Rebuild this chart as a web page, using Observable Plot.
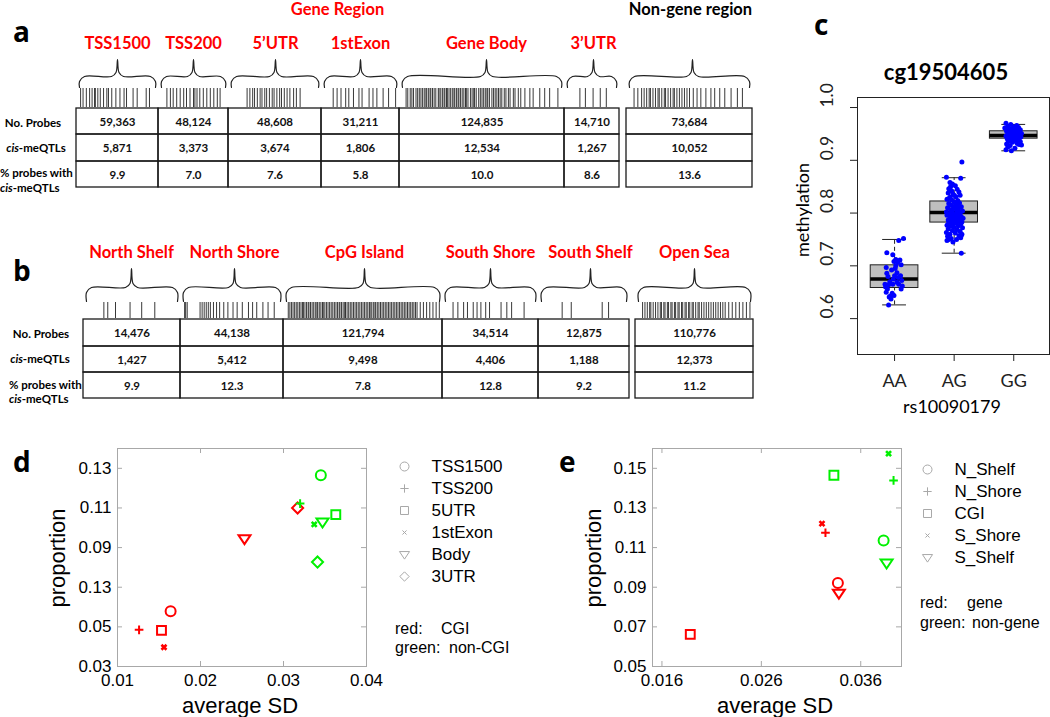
<!DOCTYPE html>
<html><head><meta charset="utf-8">
<script src="https://cdn.jsdelivr.net/npm/d3@7"></script>
<script src="https://cdn.jsdelivr.net/npm/@observablehq/plot@0.6"></script>
<style>
body{margin:0;background:#fff;}
#root{position:relative;width:1050px;height:717px;overflow:hidden;background:#fff;}
.pane{position:absolute;}
.pane svg{max-width:none;display:block;}
</style></head><body><div id="root"></div>
<script>
// ---------------- DATA ----------------
// Panel a
const regionsA = ["TSS1500","TSS200","5’UTR","1stExon","Gene Body","3’UTR"];
const probesA = [59363,48124,48608,31211,124835,14710,73684];
const cisA = [5871,3373,3674,1806,12534,1267,10052];
const pctA = [9.9,7.0,7.6,5.8,10.0,8.6,13.6];
const ticksA = [
  [0.05,0.08,0.12,0.16,0.19,0.22,0.23,0.26,0.29,0.33,0.37,0.39,0.43,0.48,0.53,0.58,0.61,0.69,0.74,0.85,0.89],
  [0.12,0.17,0.21,0.26,0.31,0.36,0.40,0.45,0.50,0.52,0.55,0.59,0.64,0.69,0.74,0.79,0.84,0.88],
  [0.20,0.23,0.26,0.28,0.31,0.34,0.36,0.39,0.41,0.44,0.47,0.49,0.52,0.55,0.57,0.60,0.63,0.66,0.70,0.73,0.77],
  [0.15,0.20,0.25,0.31,0.35,0.41,0.48,0.52,0.61,0.66,0.71,0.79,0.86,0.95],
  [0.04,0.05,0.065,0.075,0.085,0.10,0.11,0.12,0.13,0.14,0.15,0.16,0.165,0.175,0.185,0.19,0.20,0.21,0.22,0.235,0.24,0.25,0.26,0.27,0.275,0.285,0.29,0.30,0.31,0.32,0.33,0.335,0.345,0.355,0.36,0.37,0.38,0.39,0.40,0.405,0.415,0.43,0.44,0.45,0.455,0.465,0.48,0.49,0.50,0.51,0.52,0.53,0.535,0.545,0.56,0.57,0.58,0.59,0.60,0.61,0.62,0.635,0.645,0.66,0.67,0.69,0.70,0.72,0.735,0.76,0.79,0.81,0.85,0.88,0.91,0.96],
  [0.28,0.38,0.52,0.65,0.76],
  [0.06,0.09,0.12,0.14,0.16,0.18,0.19,0.21,0.23,0.25,0.26,0.28,0.30,0.31,0.33,0.35,0.37,0.38,0.40,0.42,0.44,0.46,0.48,0.50,0.53,0.56,0.59,0.63,0.67,0.70,0.74,0.78,0.83,0.88,0.92]
];
// Panel b
const regionsB = ["North Shelf","North Shore","CpG Island","South Shore","South Shelf","Open Sea"];
const probesB = [14476,44138,121794,34514,12875,110776];
const cisB = [1427,5412,9498,4406,1188,12373];
const pctB = [9.9,12.3,7.8,12.8,9.2,11.2];
const ticksB = [
  [0.21,0.25,0.33,0.48,0.60,0.735],
  [0.04,0.05,0.065,0.19,0.21,0.23,0.25,0.27,0.29,0.32,0.35,0.38,0.42,0.46,0.51,0.55,0.60,0.66,0.70,0.74,0.80,0.85,0.91],
  [0.03,0.04,0.05,0.06,0.07,0.08,0.09,0.10,0.11,0.12,0.125,0.135,0.145,0.155,0.16,0.17,0.18,0.19,0.20,0.21,0.215,0.225,0.235,0.245,0.25,0.26,0.27,0.28,0.29,0.30,0.31,0.32,0.33,0.34,0.35,0.355,0.365,0.375,0.385,0.39,0.40,0.41,0.42,0.43,0.44,0.45,0.46,0.47,0.48,0.49,0.50,0.51,0.52,0.53,0.54,0.545,0.555,0.565,0.575,0.58,0.59,0.60,0.61,0.62,0.63,0.64,0.65,0.66,0.67,0.68,0.69,0.70,0.71,0.72,0.73,0.74,0.75,0.76,0.77,0.78,0.79,0.80,0.81,0.82,0.83,0.84,0.86,0.88,0.90,0.92,0.94,0.96,0.98],
  [0.11,0.16,0.22,0.26,0.32,0.36,0.40,0.45,0.49,0.61,0.67,0.72,0.85],
  [0.26,0.36,0.70,0.77],
  [0.06,0.08,0.10,0.12,0.13,0.15,0.17,0.19,0.21,0.22,0.24,0.25,0.27,0.28,0.30,0.31,0.33,0.34,0.36,0.37,0.39,0.40,0.42,0.43,0.45,0.46,0.48,0.49,0.51,0.53,0.54,0.56,0.58,0.60,0.62,0.64,0.66,0.68,0.70,0.72,0.74,0.76,0.79,0.82,0.85,0.88,0.91,0.94,0.97]
];
// Panel c
const genotypes = ["AA","AG","GG"];
const boxQ1 = [0.658,0.782,0.941];
const boxMed = [0.675,0.801,0.947];
const boxQ3 = [0.701,0.822,0.955];
const whiskLo = [0.626,0.724,0.918];
const whiskHi = [0.750,0.867,0.968];
const pointsAA = [[0.15,0.752],[0.07,0.748],[-0.13,0.725],[-0.03,0.721],[0.02,0.712],[-0.01,0.708],[0.05,0.707],[0.09,0.711],[0.11,0.702],[-0.14,0.697],[0.01,0.695],[-0.05,0.692],[-0.13,0.686],[0.04,0.687],[0.00,0.681],[0.10,0.681],[0.06,0.678],[-0.02,0.675],[0.12,0.672],[-0.16,0.665],[-0.10,0.664],[-0.03,0.665],[0.07,0.665],[0.13,0.662],[-0.12,0.656],[0.11,0.656],[-0.15,0.660],[-0.14,0.650],[-0.04,0.648],[-0.07,0.643],[-0.01,0.644],[-0.09,0.641],[-0.06,0.637],[-0.10,0.626],[0.04,0.669],[-0.08,0.670],[0.02,0.700],[-0.11,0.680]];
const pointsAG = [[0.13,0.897],[-0.13,0.868],[0.11,0.866],[-0.07,0.858],[-0.03,0.855],[-0.06,0.850],[0.02,0.852],[-0.09,0.846],[0.05,0.845],[-0.04,0.842],[-0.10,0.838],[0.08,0.840],[-0.02,0.836],[0.10,0.834],[-0.07,0.830],[0.03,0.831],[-0.12,0.826],[-0.04,0.825],[0.06,0.824],[0.00,0.821],[-0.09,0.818],[0.09,0.819],[-0.05,0.815],[0.02,0.814],[0.12,0.812],[-0.11,0.810],[-0.01,0.809],[0.07,0.808],[-0.06,0.806],[0.04,0.805],[0.14,0.804],[-0.13,0.802],[-0.03,0.801],[0.05,0.800],[0.10,0.799],[-0.08,0.798],[0.01,0.797],[-0.12,0.796],[0.08,0.795],[-0.04,0.794],[0.12,0.793],[0.03,0.792],[-0.07,0.791],[0.15,0.790],[-0.01,0.789],[0.06,0.788],[-0.10,0.787],[0.09,0.786],[-0.05,0.785],[0.02,0.784],[0.13,0.783],[-0.09,0.782],[0.04,0.781],[-0.02,0.780],[0.11,0.779],[-0.12,0.777],[0.07,0.776],[-0.06,0.775],[0.00,0.773],[0.14,0.772],[-0.10,0.770],[0.05,0.769],[-0.03,0.767],[0.10,0.765],[-0.13,0.763],[0.02,0.762],[-0.07,0.760],[0.12,0.758],[-0.11,0.756],[0.08,0.757],[-0.05,0.752],[0.04,0.750],[-0.12,0.748],[0.11,0.753],[-0.02,0.745],[0.13,0.760],[-0.09,0.750],[0.12,0.724],[0.06,0.812],[-0.08,0.828],[0.09,0.803],[-0.04,0.806],[0.03,0.817],[0.00,0.834],[-0.06,0.795],[0.07,0.790]];
const pointsGG = [[-0.13,0.970],[-0.05,0.968],[0.05,0.966],[-0.10,0.964],[0.00,0.963],[0.08,0.962],[-0.15,0.961],[-0.03,0.960],[0.04,0.959],[0.11,0.958],[-0.08,0.957],[0.01,0.957],[0.07,0.956],[-0.12,0.955],[-0.02,0.954],[0.10,0.954],[-0.06,0.953],[0.03,0.952],[0.13,0.951],[-0.10,0.950],[0.00,0.950],[0.06,0.949],[-0.04,0.948],[0.09,0.947],[-0.13,0.946],[0.02,0.946],[-0.07,0.945],[0.12,0.944],[-0.01,0.943],[0.05,0.942],[-0.11,0.941],[0.08,0.940],[-0.05,0.939],[0.03,0.938],[-0.09,0.936],[0.11,0.935],[-0.02,0.934],[0.06,0.932],[-0.12,0.931],[0.09,0.930],[-0.06,0.928],[0.13,0.929],[-0.10,0.925],[0.02,0.923],[-0.13,0.920],[-0.04,0.918],[0.10,0.936],[-0.08,0.952],[0.04,0.964],[-0.01,0.937]];
const yTicksC = [0.6,0.7,0.8,0.9,1.0];
// Panel d
const featuresD = ["TSS1500","TSS200","5UTR","1stExon","Body","3UTR"];
const sdCGI = [0.0164,0.0126,0.0153,0.0156,0.0253,0.0317];
const propCGI = [0.0579,0.0485,0.0482,0.0397,0.0945,0.1100];
const sdNonCGI = [0.0345,0.0320,0.0363,0.0337,0.0347,0.0341];
const propNonCGI = [0.1265,0.1122,0.1066,0.1017,0.1029,0.0827];
const xTicksD = [0.01,0.02,0.03,0.04];
const yTicksD = [0.03,0.05,0.07,0.09,0.11,0.13];
const yTickLabelsD = ["0.03","0.05","0.13","0.09","0.11","0.13"];
// Panel e
const featuresE = ["N_Shelf","N_Shore","CGI","S_Shore","S_Shelf"];
const sdGene = [0.0337,0.03245,0.01885,0.0321,0.0338];
const propGene = [0.0921,0.1175,0.0662,0.1221,0.0870];
const sdNonGene = [0.0383,0.0393,0.0333,0.0388,0.0386];
const propNonGene = [0.1136,0.1439,0.1465,0.1574,0.1022];
const xTicksE = [0.016,0.026,0.036];
const yTicksE = [0.05,0.07,0.09,0.11,0.13,0.15];

// ---------------- LAYOUT / STYLE ----------------
const LATO = "Lato, 'Open Sans', sans-serif";
const ARIAL = "'Liberation Sans', Arial, sans-serif";
const colsA = [[76,158],[158,228],[228,321],[321,399],[399,564],[564,619],[626,752]];
const tipA = [117,193,275,360,486,593,692];
const rowsA = [108,134,161,187];
const braceA = {tip:59, bar:76, end:87, inset:3};
const stripA = [88,107];
const colsB = [[83,180],[180,283],[283,442],[442,538],[538,629],[635,753]];
const tipB = [131,234,364,490,590,694];
const rowsB = [319,346,372,398];
const braceB = {tip:268, bar:287, end:301, inset:3};
const stripB = [302,318];

const root = document.getElementById("root");
function pane(node, left, top) {
  const d = document.createElement("div");
  d.className = "pane"; d.style.left = left + "px"; d.style.top = top + "px";
  d.appendChild(node); root.appendChild(d);
}
function addText(html, x, y, o = {}) {
  const el = document.createElement("div");
  el.innerHTML = html;
  const size = o.size || 16, anchor = o.anchor || "middle", rot = o.rotate || 0;
  el.style.cssText = `position:absolute;left:${x}px;top:${y}px;font-family:${o.family || LATO};font-size:${size}px;font-weight:${o.weight || "normal"};color:${o.color || "#000"};line-height:1;white-space:pre;transform:translate(${anchor === "start" ? "0" : "-50%"},-50%) rotate(${rot}deg);`;
  root.appendChild(el);
}

const fmtInt = d3.format(",");
const fmtPct = d3.format(".1f");

function tableMarks(cols, rows, probes, cis, pct) {
  const cells = [];
  cols.forEach((c, i) => {
    [fmtInt(probes[i]), fmtInt(cis[i]), fmtPct(pct[i])].forEach((t, r) => {
      cells.push({x1: c[0], x2: c[1], y1: rows[r], y2: rows[r + 1], t});
    });
  });
  return [
    Plot.rect(cells, {x1: "x1", x2: "x2", y1: "y1", y2: "y2", fill: "none", stroke: "#1a1a1a", strokeWidth: 1.3}),
    Plot.text(cells, {x: d => (d.x1 + d.x2) / 2, y: d => (d.y1 + d.y2) / 2 + 0.5, text: "t", fontWeight: "bold", fontSize: 11.5, fill: "#111"})
  ];
}
function stripMarks(cols, ticks, strip) {
  const data = [];
  cols.forEach((c, i) => ticks[i].forEach(f => data.push({x: c[0] + f * (c[1] - c[0])})));
  return Plot.ruleX(data, {x: "x", y1: strip[0], y2: strip[1], stroke: "#222", strokeWidth: 0.9});
}
function braceMarks(cols, tips, b) {
  const pts = [];
  cols.forEach((c, i) => {
    const xl = c[0] + b.inset, xr = c[1] - b.inset, xc = tips[i];
    [[xl, b.end], [xl, b.bar + 5], [xl + 5, b.bar], [xc - 6, b.bar], [xc - 1.5, b.bar - 4], [xc, b.tip],
     [xc + 1.5, b.bar - 4], [xc + 6, b.bar], [xr - 5, b.bar], [xr, b.bar + 5], [xr, b.end]]
      .forEach(([x, y]) => pts.push({i, x, y}));
  });
  return Plot.line(pts, {x: "x", y: "y", z: "i", curve: "catmull-rom", stroke: "#222", strokeWidth: 1.2});
}

// ---------------- PANELS a & b ----------------
const diagram = Plot.plot({
  width: 760, height: 440, margin: 0,
  x: {domain: [0, 760], range: [0, 760], axis: null},
  y: {domain: [0, 440], range: [0, 440], axis: null},
  style: {fontFamily: LATO, background: "transparent"},
  marks: [
    Plot.text(["Gene Region"], {x: 337, y: 9, text: d => d, fill: "#ff0000", fontWeight: "bold", fontSize: 16.5}),
    Plot.text(["Non-gene region"], {x: 690, y: 9, text: d => d, fill: "#000", fontWeight: "bold", fontSize: 16.5}),
    Plot.text(regionsA, {x: (d, i) => tipA[i], y: 43, text: d => d, fill: "#ff0000", fontWeight: "bold", fontSize: 16.5}),
    braceMarks(colsA, tipA, braceA),
    stripMarks(colsA, ticksA, stripA),
    ...tableMarks(colsA, rowsA, probesA, cisA, pctA),
    Plot.text(regionsB, {x: (d, i) => tipB[i], y: 252, text: d => d, fill: "#ff0000", fontWeight: "bold", fontSize: 16.5}),
    braceMarks(colsB, tipB, braceB),
    stripMarks(colsB, ticksB, stripB),
    ...tableMarks(colsB, rowsB, probesB, cisB, pctB)
  ]
});
pane(diagram, 0, 0);

// row labels
const RL = {size: 11.5, weight: "bold"};
addText("No. Probes", 33, 123, RL);
addText("<i>cis</i>-meQTLs", 36, 148, RL);
addText("% probes with", 0, 173, {...RL, anchor: "start"});
addText("<i>cis</i>-meQTLs", 0, 188, {...RL, anchor: "start"});
addText("No. Probes", 41, 334, RL);
addText("<i>cis</i>-meQTLs", 40, 359, RL);
addText("% probes with", 9, 385, {...RL, anchor: "start"});
addText("<i>cis</i>-meQTLs", 9, 399, {...RL, anchor: "start"});

// ---------------- PANEL c ----------------
const boxes = genotypes.map((g, i) => ({g, pos: i + 1, q1: boxQ1[i], med: boxMed[i], q3: boxQ3[i], lo: whiskLo[i], hi: whiskHi[i]}));
const ptsC = [pointsAA, pointsAG, pointsGG].flatMap((arr, i) => arr.map(([dx, v]) => ({pos: i + 1 + dx, v})));
const plotC = Plot.plot({
  width: 290, height: 440, marginLeft: 97, marginRight: 1, marginTop: 97, marginBottom: 86,
  x: {domain: [0.378, 3.6]},
  y: {domain: [0.532, 1.019]},
  style: {fontFamily: LATO, fontSize: "17px", background: "transparent", color: "#222"},
  marks: [
    Plot.axisY({ticks: yTicksC, tickSize: 7, tickFormat: () => "", label: null}),
    Plot.text(yTicksC, {y: d => d, frameAnchor: "left", dx: -30, rotate: -90, text: d => d.toFixed(1), fontSize: 17.5, fill: "#222"}),
    Plot.axisX({ticks: [1, 2, 3], tickSize: 7, tickPadding: 13, tickFormat: d => genotypes[d - 1], label: null, fontSize: 18}),
    Plot.ruleX(boxes, {x: "pos", y1: "q3", y2: "hi", stroke: "#222", strokeDasharray: "4,3"}),
    Plot.ruleX(boxes, {x: "pos", y1: "lo", y2: "q1", stroke: "#222", strokeDasharray: "4,3"}),
    Plot.ruleY(boxes, {y: "hi", x1: d => d.pos - 0.2, x2: d => d.pos + 0.2, stroke: "#222"}),
    Plot.ruleY(boxes, {y: "lo", x1: d => d.pos - 0.2, x2: d => d.pos + 0.2, stroke: "#222"}),
    Plot.rect(boxes, {x1: d => d.pos - 0.4, x2: d => d.pos + 0.4, y1: "q1", y2: "q3", fill: "#bfbfbf", stroke: "#222"}),
    Plot.ruleY(boxes, {y: "med", x1: d => d.pos - 0.4, x2: d => d.pos + 0.4, stroke: "#000", strokeWidth: 3.5}),
    Plot.dot(ptsC, {x: "pos", y: "v", fill: "#0000ff", r: 2.5}),
    Plot.frame({stroke: "#222"})
  ]
});
pane(plotC, 760, 0);
addText("cg19504605", 946, 72, {size: 22, weight: "bold"});
addText("methylation", 802, 210, {size: 18, rotate: -90});
addText("rs10090179", 952, 406, {size: 18});

// ---------------- PANELS d & e ----------------
const triDown = {draw(ctx, size) { const r = Math.sqrt(size / Math.PI); ctx.moveTo(-1.2 * r, -0.7 * r); ctx.lineTo(1.2 * r, -0.7 * r); ctx.lineTo(0, 1.1 * r); ctx.closePath(); }};
const SYM = {circle: "circle", plus: "plus", square: "square", times: "times", tri: triDown, diamond: "diamond2"};
const symD = [SYM.circle, SYM.plus, SYM.square, SYM.times, SYM.tri, SYM.diamond];
const symE = [SYM.circle, SYM.plus, SYM.square, SYM.times, SYM.tri];
const radD = [5, 2.9, 5, 2.4, 5, 5];
const radE = [5, 2.9, 5, 2.4, 5];
const GRAY = "#a8a8a8";
const RED = "#ff0000", GREEN = "#00f000";

function scatter({features, syms, rads, sdA, pA, sdB, pB, xDomain, yDomain, xTicks, yTicks, xFmt, yFmt, marginLeft, marginRight}) {
  const W = 530, H = 277, mt = 8, mb = 51;
  const iw = W - marginLeft - marginRight, ih = H - mt - mb;
  const pts = [];
  features.forEach((f, i) => pts.push({i, sd: sdA[i], p: pA[i], c: RED}));
  features.forEach((f, i) => pts.push({i, sd: sdB[i], p: pB[i], c: GREEN}));
  const dotMarks = [];
  [RED, GREEN].forEach(col => features.forEach((f, i) => {
    dotMarks.push(Plot.dot(pts.filter(d => d.c === col && d.i === i), {x: "sd", y: "p", stroke: col, symbol: () => syms[i], r: rads[i], strokeWidth: i === 3 ? 2.6 : 2}));
  }));
  return Plot.plot({
    width: W, height: H, marginLeft, marginRight, marginTop: mt, marginBottom: mb,
    x: {domain: xDomain}, y: {domain: yDomain},
    symbol: {type: "identity"},
    style: {fontFamily: ARIAL, fontSize: "17px", background: "transparent", color: "#000"},
    marks: [
      Plot.frame({stroke: GRAY}),
      Plot.ruleY(yTicks, {stroke: GRAY, insetRight: iw - 5}),
      Plot.ruleY(yTicks, {stroke: GRAY, insetLeft: iw - 5}),
      Plot.ruleX(xTicks, {stroke: GRAY, insetTop: ih - 5}),
      Plot.ruleX(xTicks, {stroke: GRAY, insetBottom: ih - 5}),
      Plot.axisY({ticks: yTicks, tickSize: 0, tickPadding: 6, tickFormat: yFmt, label: null, fontSize: 17}),
      Plot.axisX({ticks: xTicks, tickSize: 0, tickPadding: 7, tickFormat: xFmt, label: null, fontSize: 17}),
      ...dotMarks
    ]
  });
}
const labD = new Map(yTicksD.map((v, i) => [v, yTickLabelsD[i]]));
const plotD = scatter({features: featuresD, syms: symD, rads: radD, sdA: sdCGI, pA: propCGI, sdB: sdNonCGI, pB: propNonCGI,
  xDomain: [0.01, 0.04], yDomain: [0.03, 0.14], xTicks: xTicksD, yTicks: yTicksD,
  xFmt: d3.format(".2f"), yFmt: d => labD.get(d), marginLeft: 117, marginRight: 164});
pane(plotD, 0, 440);
const plotE = scatter({features: featuresE, syms: symE, rads: radE, sdA: sdGene, pA: propGene, sdB: sdNonGene, pB: propNonGene,
  xDomain: [0.01505, 0.0401], yDomain: [0.05, 0.16], xTicks: xTicksE, yTicks: yTicksE,
  xFmt: d3.format(".3f"), yFmt: d3.format(".2f"), marginLeft: 132, marginRight: 149});
pane(plotE, 520, 440);

function legend(features, syms, range) {
  const radL = [4.5, 2.8, 4.5, 2.0, 4.2, 4.2];
  return Plot.plot({
    width: 150, height: 150, marginLeft: 14, marginRight: 0, marginTop: 0, marginBottom: 0,
    y: {type: "point", domain: features, range, padding: 0, axis: null},
    symbol: {type: "identity"},
    style: {fontFamily: ARIAL, fontSize: "17px", background: "transparent"},
    marks: [
      ...features.map((f, i) => Plot.dot([f], {frameAnchor: "left", y: d => d, symbol: () => syms[i], r: radL[i], stroke: GRAY, strokeWidth: 1})),
      Plot.text(features, {frameAnchor: "left", y: d => d, dx: 27, text: d => d, textAnchor: "start", fontSize: 17, fill: "#000"})
    ]
  });
}
pane(legend(featuresD, symD, [14, 127]), 390, 450);
pane(legend(featuresE, symE, [17, 108]), 913, 450);

const LT = {family: ARIAL, size: 16, anchor: "start"};
addText("red:", 395, 629, LT); addText("CGI", 441, 629, LT);
addText("green:", 395, 648, LT); addText("non-CGI", 449, 648, LT);
addText("red:", 920, 603, LT); addText("gene", 967, 603, LT);
addText("green:", 920, 623, LT); addText("non-gene", 972, 623, LT);

addText("proportion", 58, 558, {family: ARIAL, size: 22, rotate: -90});
addText("average SD", 240, 706, {family: ARIAL, size: 22});
addText("proportion", 594, 558, {family: ARIAL, size: 22, rotate: -90});
addText("average SD", 775, 706, {family: ARIAL, size: 22});

// panel letters
const PL = {size: 28, weight: "bold", anchor: "start", family: "'Open Sans', Lato, sans-serif"};
addText("a", 13, 31, PL);
addText("b", 13, 270, PL);
addText("c", 814, 24, PL);
addText("d", 13, 461, PL);
addText("e", 559, 461, PL);
</script></body></html>
